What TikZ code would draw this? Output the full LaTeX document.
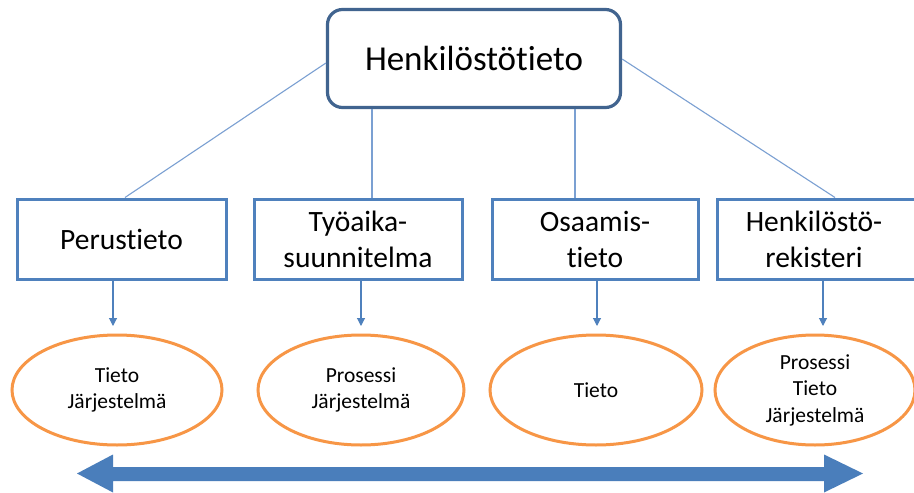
\documentclass[tikz,border=0pt]{standalone}
\usepackage{fontspec}
\setmainfont{Carlito}[Ligatures=NoCommon]
\usetikzlibrary{arrows.meta,shapes.geometric}
\definecolor{topline}{HTML}{41648F}
\definecolor{boxline}{HTML}{4F81BD}
\definecolor{linkline}{HTML}{7BA0D2}
\definecolor{ovalline}{HTML}{F79646}
\definecolor{bigarrow}{HTML}{4A7EBB}
\tikzset{
  x=1pt, y=-1pt,
  topbox/.style={draw=topline, line width=3.2pt, rounded corners=15pt, fill=white,
    minimum width=293pt, minimum height=98pt, inner sep=0pt,
    font=\fontsize{35}{40}\selectfont},
  subbox/.style={draw=boxline, line width=3pt, fill=white,
    minimum height=80pt, inner sep=0pt, align=center,
    font=\fontsize{29.5}{36}\selectfont},
  oval/.style={ellipse, draw=ovalline, line width=3pt, minimum height=110pt,
    inner sep=0pt, align=center, font=\fontsize{21.5}{26.5}\selectfont},
  link/.style={draw=linkline, line width=1.1pt},
  down/.style={draw=boxline, line width=1.1pt, -{Triangle[width=8pt,length=8pt]}},
}
\begin{document}
\begin{tikzpicture}
\useasboundingbox (0,0) rectangle (914,493);
\clip (0,0) rectangle (914,493);
\fill[white] (0,0) rectangle (914,493);

% top node
\node[topbox] (top) at (474,58.5) {Henkilöstötieto};

% second row
\node[subbox, minimum width=209pt] (b1) at (121.5,239) {Perustieto};
\node[subbox, minimum width=208pt] (b2) at (358,239) {Työaika-\\suunnitelma};
\node[subbox, minimum width=206pt] (b3) at (595,239) {Osaamis-\\tieto};
\node[subbox, minimum width=207pt] (b4) at (821,239) {\hspace*{-14pt}Henkilöstö-\\\hspace*{-14pt}rekisteri};

% ovals
\node[oval, minimum width=210pt] (e1) at (117,390) {Tieto\\Järjestelmä};
\node[oval, minimum width=206pt] (e2) at (361,390) {Prosessi\\Järjestelmä};
\node[oval, minimum width=212pt] (e3) at (596,390) {Tieto};
\node[oval, minimum width=200pt] (e4) at (815,390) {Prosessi\\Tieto\\Järjestelmä};

% connectors from the top node
\coordinate (l1) at (125,199);
\coordinate (l2) at (372,199);
\coordinate (l3) at (575,199);
\coordinate (l4) at (835,199);
\draw[link] (top.west |- 0,63) -- (b1.north -| l1);
\draw[link] (top.south -| l2) -- (b2.north -| l2);
\draw[link] (top.south -| l3) -- (b3.north -| l3);
\draw[link] (top.east |- 0,59) -- (b4.north -| l4);

% arrows down to the ovals
\coordinate (t1) at (113,326);
\coordinate (t2) at (361,326);
\coordinate (t3) at (597,326);
\coordinate (t4) at (823,326);
\draw[down] (b1.south -| t1) -- (t1);
\draw[down] (b2.south -| t2) -- (t2);
\draw[down] (b3.south -| t3) -- (t3);
\draw[down] (b4.south -| t4) -- (t4);

% double-headed arrow along the bottom
\fill[bigarrow] (77,473.5) -- (113,454.5) -- (113,467) -- (824,467) -- (824,454.5)
  -- (863,473.5) -- (824,492.5) -- (824,481) -- (113,481) -- (113,492.5) -- cycle;
\end{tikzpicture}
\end{document}
